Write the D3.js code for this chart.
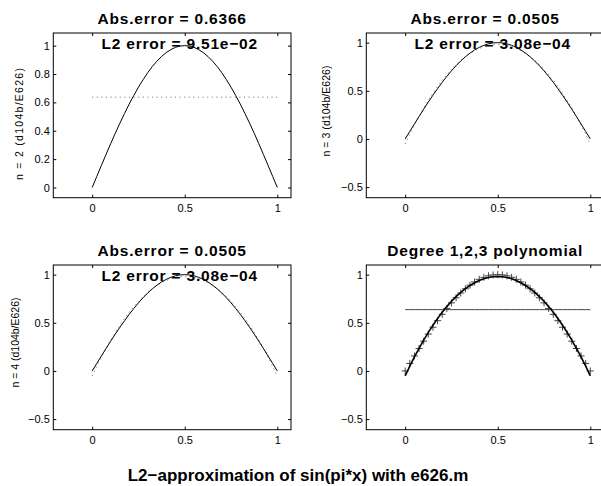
<!DOCTYPE html>
<html lang="en">
<head>
    <meta charset="UTF-8">
    <title>L2-approximation of sin(pi*x)</title>
    <script src="https://d3js.org/d3.v7.min.js"></script>
    <style>
        body { margin: 0; background: #fff; }
        svg { display: block; }
        text { font-family: "Liberation Sans", Arial, Helvetica, sans-serif; fill: #000; }
        .tick text { font-size: 11px; }
        .title { font-size: 15.5px; font-weight: bold; letter-spacing: 0.8px; }
        .ylabel { font-size: 10.5px; }
        .main { font-size: 17px; font-weight: bold; }
    </style>
</head>
<body>
    <script>
        // sample points 0:0.025:1
        const xs = [0, 0.025, 0.05, 0.075, 0.1, 0.125, 0.15, 0.175, 0.2, 0.225, 0.25, 0.275, 0.3, 0.325, 0.35,
            0.375, 0.4, 0.425, 0.45, 0.475, 0.5, 0.525, 0.55, 0.575, 0.6, 0.625, 0.65, 0.675, 0.7, 0.725, 0.75,
            0.775, 0.8, 0.825, 0.85, 0.875, 0.9, 0.925, 0.95, 0.975, 1];

        // exact function sin(pi*x)
        const sinValues = [0, 0.078, 0.156, 0.233, 0.309, 0.383, 0.454, 0.522, 0.588, 0.649, 0.707, 0.760,
            0.809, 0.853, 0.891, 0.924, 0.951, 0.972, 0.988, 0.997, 1, 0.997, 0.988, 0.972, 0.951, 0.924, 0.891,
            0.853, 0.809, 0.760, 0.707, 0.649, 0.588, 0.522, 0.454, 0.383, 0.309, 0.233, 0.156, 0.078, 0];

        // degree 0/1 approximation (constant)
        const constValues = xs.map(() => 0.6366);

        // degree 2/3 approximation
        const quadValues = [-0.051, 0.050, 0.145, 0.235, 0.321, 0.400, 0.475, 0.545, 0.609, 0.668, 0.723,
            0.772, 0.815, 0.854, 0.887, 0.916, 0.939, 0.957, 0.970, 0.978, 0.980, 0.978, 0.970, 0.957, 0.939,
            0.916, 0.887, 0.854, 0.815, 0.772, 0.723, 0.668, 0.609, 0.545, 0.475, 0.400, 0.321, 0.235, 0.145,
            0.050, -0.051];

        // texts
        const titles = ["Abs.error = 0.6366", "Abs.error = 0.0505", "Abs.error = 0.0505", "Degree 1,2,3 polynomial"];
        const l2Labels = ["L2 error = 9.51e\u221202", "L2 error = 3.08e\u221204", "L2 error = 3.08e\u221204", null];
        const yLabels = ["n = 2 (d104b/E626)", "n = 3 (d104b/E626)", "n = 4 (d104b/E626)", null];
        const mainTitle = "L2\u2212approximation of sin(pi*x) with e626.m";

        // ticks
        const xTicks = [0, 0.5, 1];
        const xTickLabels = ["0", "0.5", "1"];
        const yTicksA = [0, 0.2, 0.4, 0.6, 0.8, 1];
        const yTickLabelsA = ["0", "0.2", "0.4", "0.6", "0.8", "1"];
        const yTicksB = [-0.5, 0, 0.5, 1];
        const yTickLabelsB = ["\u22120.5", "0", "0.5", "1"];

        const width = 601, height = 486;
        const axW = 237.7, axH = 164.7;

        const panels = [
            { left: 53.3, top: 33, yDom: [-0.072, 1.089], ticks: yTicksA, labels: yTickLabelsA,
              ylx: 18.7, yly: 124, ylLen: 112, approx: constValues },
            { left: 366.3, top: 33, yDom: [-0.61, 1.10], ticks: yTicksB, labels: yTickLabelsB,
              ylx: 326.5, yly: 111, ylLen: 91, approx: quadValues },
            { left: 53.3, top: 265, yDom: [-0.61, 1.10], ticks: yTicksB, labels: yTickLabelsB,
              ylx: 15, yly: 342.5, ylLen: 90, approx: quadValues },
            { left: 366.3, top: 265, yDom: [-0.61, 1.10], ticks: yTicksB, labels: yTickLabelsB,
              ylx: null, yly: null, ylLen: null, approx: null }
        ];

        const svg = d3.select("body")
            .append("svg")
            .attr("width", width)
            .attr("height", height);

        panels.forEach((p, i) => {
            const x = d3.scaleLinear().domain([-0.21, 1.074]).range([p.left, p.left + axW]);
            const y = d3.scaleLinear().domain(p.yDom).range([p.top + axH, p.top]);
            const g = svg.append("g");

            // axes with inward ticks
            const xFmt = d => xTickLabels[xTicks.indexOf(d)];
            const yFmt = d => p.labels[p.ticks.indexOf(d)];

            const styleAxis = sel => {
                sel.select(".domain").remove();
                sel.selectAll(".tick line").attr("stroke", "#000");
                sel.attr("font-family", null).attr("font-size", null);
                sel.selectAll(".tick text").attr("fill", "#000");
            };

            g.append("g")
                .attr("transform", `translate(0,${p.top + axH})`)
                .call(d3.axisBottom(x).tickValues(xTicks).tickFormat(xFmt).tickSize(-3).tickPadding(6.5))
                .call(styleAxis);
            g.append("g")
                .attr("transform", `translate(0,${p.top})`)
                .call(d3.axisTop(x).tickValues(xTicks).tickFormat("").tickSize(-3))
                .call(styleAxis);
            g.append("g")
                .attr("transform", `translate(${p.left},0)`)
                .call(d3.axisLeft(y).tickValues(p.ticks).tickFormat(yFmt).tickSize(-3).tickPadding(3.5))
                .call(styleAxis);
            g.append("g")
                .attr("transform", `translate(${p.left + axW},0)`)
                .call(d3.axisRight(y).tickValues(p.ticks).tickFormat("").tickSize(-3))
                .call(styleAxis);

            g.append("rect")
                .attr("x", p.left)
                .attr("y", p.top)
                .attr("width", axW)
                .attr("height", axH)
                .attr("fill", "none")
                .attr("stroke", "#000")
                .attr("stroke-width", 1);

            const line = vals => d3.line()
                .x((d, k) => x(xs[k]))
                .y(d => y(d))(vals);

            if (i < 3) {
                // approximation, dotted
                g.append("path")
                    .attr("d", line(p.approx))
                    .attr("fill", "none")
                    .attr("stroke", "#666")
                    .attr("stroke-width", 1)
                    .attr("stroke-dasharray", "1,3.6");
                // exact function
                g.append("path")
                    .attr("d", line(sinValues))
                    .attr("fill", "none")
                    .attr("stroke", "#000")
                    .attr("stroke-width", 1);
            } else {
                // degree 1 (constant)
                g.append("path")
                    .attr("d", line(constValues))
                    .attr("fill", "none")
                    .attr("stroke", "#444")
                    .attr("stroke-width", 1);
                // '+' markers on sin(pi*x)
                g.selectAll(".mark")
                    .data(sinValues)
                    .enter()
                    .append("path")
                    .attr("class", "mark")
                    .attr("d", (d, k) => {
                        const cx = x(xs[k]), cy = y(d), s = 3.5;
                        return `M${cx - s},${cy}H${cx + s}M${cx},${cy - s}V${cy + s}`;
                    })
                    .attr("stroke", "#444")
                    .attr("stroke-width", 1);
                // degree 2 and 3 (identical)
                g.append("path")
                    .attr("d", line(quadValues))
                    .attr("fill", "none")
                    .attr("stroke", "#000")
                    .attr("stroke-width", 1.6);
            }

            // title
            g.append("text")
                .attr("class", "title")
                .attr("x", p.left + axW / 2)
                .attr("y", p.top - 9.3)
                .attr("text-anchor", "middle")
                .text(titles[i]);

            if (l2Labels[i]) {
                g.append("text")
                    .attr("class", "title")
                    .attr("x", x(0.05))
                    .attr("y", p.top + 15.5)
                    .text(l2Labels[i]);
            }

            if (yLabels[i]) {
                g.append("text")
                    .attr("class", "ylabel")
                    .attr("transform", `translate(${p.ylx + 3.8},${p.yly}) rotate(-90)`)
                    .attr("text-anchor", "middle")
                    .attr("textLength", p.ylLen)
                    .attr("lengthAdjust", "spacing")
                    .text(yLabels[i]);
            }
        });

        // overall title
        svg.append("text")
            .attr("class", "main")
            .attr("x", 298)
            .attr("y", 481)
            .attr("text-anchor", "middle")
            .text(mainTitle);
    </script>
</body>
</html>
